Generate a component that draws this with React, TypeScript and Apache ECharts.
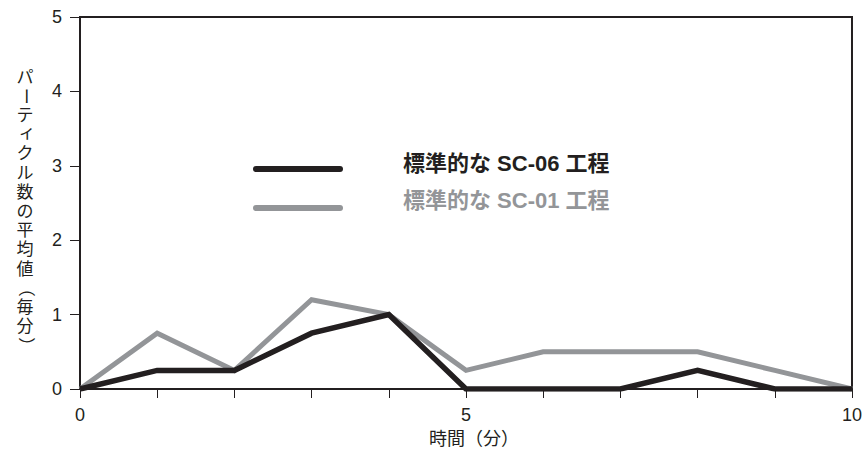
import React, { useEffect, useRef } from "react";
import * as echarts from "echarts";

const minutes = [0, 1, 2, 3, 4, 5, 6, 7, 8, 9, 10];
const sc06Values = [0, 0.25, 0.25, 0.75, 1.0, 0, 0, 0, 0.25, 0, 0];
const sc01Values = [0, 0.75, 0.25, 1.2, 1.0, 0.25, 0.5, 0.5, 0.5, 0.25, 0];
const seriesNames = ["標準的な SC-06 工程", "標準的な SC-01 工程"];
const xAxisName = "時間（分）";
const yAxisName = "パーティクル数の平均値（毎分）";
const xLabelValues = [0, 5, 10];
const yTickLabels = ["0", "1", "2", "3", "4", "5"];

const BLACK = "#231f20";
const GRAY = "#939598";
const FONT = "'Liberation Sans', 'Noto Sans CJK JP', sans-serif";

export default function App() {
  const ref = useRef<HTMLDivElement>(null);
  useEffect(() => {
    document.body.style.margin = "0";
    const chart = echarts.init(ref.current!, null, { renderer: "svg" });

    // vertical y-axis name, one upright glyph per row
    const rotated = new Set(["ー", "（", "）"]);
    const chars = Array.from(yAxisName);
    const yNameEls = chars.map((ch, i) => ({
      type: "text",
      x: 25 + (ch === "ィ" ? 2 : 0),
      y: 77 + i * 19.2 - (ch === "ィ" ? 2 : 0),
      rotation: rotated.has(ch) ? -Math.PI / 2 : 0,
      style: {
        text: ch,
        fill: BLACK,
        font: `17px ${FONT}`,
        align: "center",
        verticalAlign: "middle",
      },
    }));

    const legendEls: any[] = [];
    const colors = [BLACK, GRAY];
    const legendY = [169, 208];
    seriesNames.forEach((name, i) => {
      legendEls.push({
        type: "line",
        shape: { x1: 256, y1: legendY[i], x2: 340, y2: legendY[i] },
        style: { stroke: colors[i], lineWidth: 6, lineCap: "round" },
      });
      legendEls.push({
        type: "text",
        x: 403,
        y: legendY[i] - 6 - i * 2,
        style: {
          text: name,
          fill: colors[i],
          font: `bold 22px ${FONT}`,
          align: "left",
          verticalAlign: "middle",
        },
      });
    });

    chart.setOption({
      animation: false,
      backgroundColor: "#ffffff",
      textStyle: { fontFamily: FONT },
      grid: {
        left: 80,
        right: 7,
        top: 17,
        bottom: 60,
        show: true,
        borderColor: BLACK,
        borderWidth: 2,
        backgroundColor: "transparent",
      },
      xAxis: {
        type: "value",
        min: 0,
        max: 10,
        interval: 1,
        name: xAxisName,
        nameLocation: "middle",
        nameGap: 41,
        nameTextStyle: { color: BLACK, fontSize: 18, fontFamily: FONT, padding: [0, 0, 0, 16] },
        axisLine: { show: true, lineStyle: { color: BLACK, width: 2 } },
        axisTick: { show: true, inside: false, length: 9, lineStyle: { color: BLACK, width: 1 } },
        axisLabel: {
          show: true,
          margin: 17,
          color: BLACK,
          fontSize: 18,
          fontFamily: FONT,
          formatter: (v: number) => (xLabelValues.includes(v) ? String(v) : ""),
        },
        splitLine: { show: false },
      },
      yAxis: {
        type: "value",
        min: 0,
        max: 5,
        interval: 1,
        axisLine: { show: true, lineStyle: { color: BLACK, width: 2 } },
        axisTick: { show: true, inside: false, length: 10, lineStyle: { color: BLACK, width: 1 } },
        axisLabel: {
          show: true,
          margin: 18,
          color: BLACK,
          fontSize: 18,
          fontFamily: FONT,
          formatter: (v: number) => yTickLabels[Math.round(v)] ?? "",
        },
        splitLine: { show: false },
      },
      graphic: [...yNameEls, ...legendEls],
      series: [
        {
          name: seriesNames[1],
          type: "line",
          data: minutes.map((m, i) => [m, sc01Values[i]]),
          showSymbol: false,
          symbol: "none",
          lineStyle: { color: GRAY, width: 5, join: "miter", cap: "butt" },
          z: 2,
        },
        {
          name: seriesNames[0],
          type: "line",
          data: minutes.map((m, i) => [m, sc06Values[i]]),
          showSymbol: false,
          symbol: "none",
          lineStyle: { color: BLACK, width: 5.5, join: "miter", cap: "butt" },
          z: 3,
        },
      ],
    });
    return () => chart.dispose();
  }, []);
  return (
    <div
      ref={ref}
      style={{ position: "absolute", left: 0, top: 0, width: 865, height: 453 }}
    />
  );
}
